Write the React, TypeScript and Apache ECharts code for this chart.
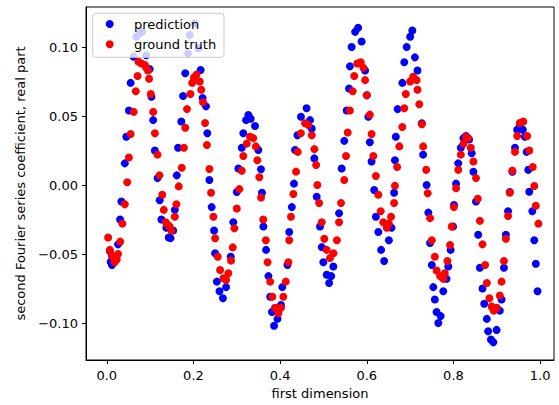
import React, { useEffect, useRef } from "react";
import * as echarts from "echarts";

// [first dimension, coefficient]
const prediction: [number, number][] = [
  [0.007, -0.048], [0.009, -0.0556], [0.012, -0.058], [0.0115, -0.057], [0.026, -0.043], [0.0307, -0.025],
  [0.0337, -0.012], [0.0415, 0.0157], [0.045, 0.035], [0.051, 0.054], [0.055, 0.074], [0.062, 0.093],
  [0.068, 0.1075], [0.076, 0.11], [0.0814, 0.111], [0.091, 0.094], [0.099, 0.084],
  [0.103, 0.064], [0.107, 0.047], [0.111, 0.025], [0.117, 0.005], [0.122, -0.011], [0.126, -0.025],
  [0.1375, -0.031], [0.143, -0.038], [0.147, -0.0385], [0.153, -0.033],
  [0.157, -0.018], [0.1615, 0.007], [0.1645, 0.027], [0.172, 0.046], [0.176, 0.0645], [0.181, 0.081],
  [0.1875, 0.0954], [0.1915, 0.1087], [0.203, 0.117], [0.211, 0.099], [0.2165, 0.0833],
  [0.221, 0.063], [0.229, 0.057], [0.232, 0.0375], [0.2367, 0.0036], [0.242, -0.016], [0.2475, -0.033],
  [0.25, -0.0495], [0.254, -0.07], [0.26, -0.077], [0.268, -0.082], [0.2752, -0.074],
  [0.286, -0.052], [0.292, -0.027], [0.2999, -0.005], [0.3037, 0.012], [0.3114, 0.027], [0.315, 0.0375],
  [0.3214, 0.047], [0.3267, 0.0507], [0.332, 0.048], [0.342, 0.0428],
  [0.3496, 0.0254], [0.3557, 0.0114], [0.358, -0.0056], [0.3613, -0.03], [0.3675, -0.047], [0.373, -0.066],
  [0.377, -0.081], [0.381, -0.092], [0.386, -0.102], [0.394, -0.097], [0.402, -0.087],
  [0.405, -0.074], [0.417, -0.058], [0.421, -0.034], [0.427, -0.016], [0.432, 0.001], [0.4344, 0.0254],
  [0.4398, 0.036], [0.448, 0.0495], [0.461, 0.0556], [0.469, 0.047],
  [0.4729, 0.041], [0.4789, 0.0193], [0.4844, -0.0085], [0.492, -0.03], [0.496, -0.045], [0.4997, -0.056],
  [0.5075, -0.065], [0.513, -0.071], [0.518, -0.066], [0.5227, -0.059],
  [0.536, -0.0205], [0.542, 0.012], [0.548, 0.032], [0.5536, 0.054], [0.559, 0.07], [0.561, 0.086],
  [0.565, 0.1], [0.573, 0.111], [0.58, 0.114], [0.588, 0.104],
  [0.596, 0.083], [0.6, 0.065], [0.6035, 0.0495], [0.607, 0.031], [0.611, 0.017], [0.617, -0.0036],
  [0.621, -0.023], [0.6265, -0.034], [0.633, -0.047], [0.64, -0.055],
  [0.651, -0.04], [0.657, -0.031], [0.663, -0.0056], [0.665, 0.018], [0.667, 0.035], [0.671, 0.055],
  [0.682, 0.074], [0.6865, 0.089], [0.692, 0.1], [0.7, 0.1075], [0.705, 0.112], [0.711, 0.0925], [0.717, 0.083],
  [0.727, 0.0447], [0.73, 0.022], [0.738, 0.0], [0.742, -0.02], [0.746, -0.042], [0.75, -0.058],
  [0.7534, -0.074], [0.757, -0.083], [0.761, -0.092], [0.765, -0.1], [0.7705, -0.095], [0.7765, -0.077], [0.784, -0.068],
  [0.788, -0.059], [0.7935, -0.047], [0.799, -0.03], [0.8012, -0.0145], [0.806, 0.001], [0.811, 0.0157],
  [0.817, 0.027], [0.823, 0.034], [0.829, 0.0355], [0.836, 0.033],
  [0.842, 0.023], [0.846, 0.0096], [0.852, -0.012], [0.857, -0.036], [0.861, -0.06], [0.867, -0.075],
  [0.871, -0.086], [0.877, -0.097], [0.88, -0.106], [0.8865, -0.112], [0.892, -0.114], [0.8996, -0.105],
  [0.907, -0.091], [0.911, -0.083], [0.9165, -0.06], [0.921, -0.036], [0.926, -0.019], [0.93, -0.005],
  [0.936, 0.0096], [0.942, 0.027], [0.947, 0.04], [0.953, 0.0435], [0.96, 0.04],
  [0.965, 0.035], [0.9688, 0.024], [0.9726, 0.011], [0.9749, -0.0049], [0.982, -0.019], [0.9865, -0.04],
  [0.99, -0.057], [0.994, -0.077],
];

const groundTruth: [number, number][] = [
  [0.003, -0.038], [0.007, -0.047], [0.0115, -0.051], [0.0145, -0.052], [0.018, -0.056], [0.023, -0.054],
  [0.026, -0.05], [0.031, -0.041], [0.036, -0.028], [0.0415, -0.014], [0.047, 0.002], [0.051, 0.02],
  [0.055, 0.037], [0.062, 0.053], [0.067, 0.068], [0.071, 0.079], [0.073, 0.0894], [0.08, 0.088],
  [0.088, 0.087], [0.091, 0.085], [0.095, 0.083],
  [0.0976, 0.077], [0.1015, 0.066], [0.107, 0.053], [0.111, 0.0375], [0.117, 0.022], [0.1215, 0.007],
  [0.128, -0.007], [0.1315, -0.018], [0.136, -0.027], [0.141, -0.029], [0.145, -0.03], [0.149, -0.033],
  [0.157, -0.023], [0.1606, -0.014], [0.166, -0.001], [0.173, 0.0125], [0.178, 0.027], [0.181, 0.0415],
  [0.185, 0.055], [0.193, 0.066], [0.197, 0.074], [0.201, 0.078], [0.207, 0.08], [0.2145, 0.075],
  [0.218, 0.069], [0.222, 0.06],
  [0.2268, 0.045], [0.231, 0.029], [0.2367, 0.0116], [0.2406, -0.0056], [0.246, -0.023], [0.25, -0.0386],
  [0.256, -0.052], [0.2614, -0.0616], [0.269, -0.0676], [0.2752, -0.0688], [0.2805, -0.064],
  [0.2867, -0.0548], [0.2907, -0.0452], [0.2944, -0.0314], [0.3, -0.017], [0.306, -0.003], [0.3114, 0.0104],
  [0.315, 0.021], [0.323, 0.03], [0.3306, 0.035], [0.338, 0.034], [0.344, 0.028],
  [0.3474, 0.018], [0.352, 0.0056], [0.356, -0.009], [0.361, -0.025], [0.367, -0.04], [0.371, -0.056],
  [0.377, -0.07], [0.382, -0.081], [0.388, -0.089], [0.396, -0.093], [0.402, -0.089],
  [0.4074, -0.081], [0.413, -0.07], [0.419, -0.056], [0.421, -0.04], [0.425, -0.023], [0.4305, -0.0065],
  [0.4367, 0.0097], [0.4406, 0.024], [0.448, 0.0375], [0.4574, 0.0447], [0.465, 0.0435],
  [0.473, 0.036], [0.479, 0.026], [0.483, 0.0145], [0.486, 0.0], [0.49, -0.013], [0.496, -0.027],
  [0.502, -0.039], [0.5075, -0.047], [0.515, -0.053], [0.523, -0.0495],
  [0.531, -0.04], [0.536, -0.027], [0.5405, -0.013], [0.548, 0.0036], [0.552, 0.021], [0.556, 0.038],
  [0.561, 0.054], [0.5675, 0.068], [0.571, 0.079], [0.578, 0.088], [0.586, 0.089], [0.592, 0.085],
  [0.596, 0.076], [0.6, 0.065], [0.607, 0.051], [0.611, 0.037], [0.615, 0.021], [0.621, 0.0065],
  [0.6265, -0.007], [0.632, -0.019], [0.638, -0.027], [0.646, -0.031], [0.651, -0.028],
  [0.656, -0.023], [0.663, -0.013], [0.665, -0.0005], [0.67, 0.013], [0.675, 0.028], [0.682, 0.042],
  [0.6865, 0.0556], [0.69, 0.066], [0.7, 0.075], [0.707, 0.0785], [0.715, 0.076],
  [0.717, 0.069], [0.721, 0.0585], [0.727, 0.044], [0.73, 0.028], [0.737, 0.011], [0.7405, -0.006],
  [0.746, -0.024], [0.75, -0.04], [0.757, -0.052], [0.761, -0.062], [0.769, -0.066], [0.7765, -0.068],
  [0.78, -0.064],
  [0.786, -0.055], [0.792, -0.0435], [0.796, -0.03], [0.801, -0.016], [0.806, -0.0024], [0.811, 0.011],
  [0.817, 0.022], [0.823, 0.03], [0.829, 0.035], [0.834, 0.034],
  [0.84, 0.027], [0.846, 0.017], [0.852, 0.005], [0.856, -0.01], [0.861, -0.026], [0.867, -0.043],
  [0.873, -0.058], [0.877, -0.071], [0.883, -0.082], [0.888, -0.088], [0.893, -0.091], [0.9, -0.089],
  [0.907, -0.08], [0.911, -0.07], [0.9165, -0.055], [0.921, -0.039], [0.926, -0.0225], [0.93, -0.0056],
  [0.936, 0.0104], [0.942, 0.024], [0.947, 0.0355], [0.953, 0.045], [0.961, 0.046],
  [0.97, 0.0355], [0.975, 0.025], [0.983, 0.013], [0.9865, -0.0007], [0.99, -0.015], [0.996, -0.028],
];

const xTicks = [0.0, 0.2, 0.4, 0.6, 0.8, 1.0];
const yTicks = [-0.1, -0.05, 0.0, 0.05, 0.1];
const seriesNames = ["prediction", "ground truth"];
const seriesColors = ["#0000ff", "#ff0000"];

const FONT = "DejaVu Sans";

export default function App() {
  const ref = useRef<HTMLDivElement>(null);
  useEffect(() => {
    if (!ref.current) return;
    const chart = echarts.init(ref.current, undefined, { renderer: "svg" });
    chart.setOption({
      animation: false,
      backgroundColor: "#ffffff",
      grid: {
        left: 86,
        top: 7,
        right: 5,
        bottom: 45,
        show: true,
        borderColor: "#000000",
        borderWidth: 1,
        backgroundColor: "transparent",
      },
      xAxis: {
        type: "value",
        min: -0.048,
        max: 1.032,
        name: "first dimension",
        nameLocation: "middle",
        nameGap: 26,
        nameTextStyle: { fontFamily: FONT, fontSize: 13, color: "#000" },
        axisLine: { show: true, onZero: false, lineStyle: { color: "#000", width: 1 } },
        axisTick: { show: true, inside: false, length: 4, customValues: xTicks, lineStyle: { color: "#000" } },
        axisLabel: {
          customValues: xTicks,
          margin: 9,
          fontFamily: FONT,
          fontSize: 13,
          color: "#000",
          formatter: (v: number) => v.toFixed(1),
        },
        splitLine: { show: false },
      },
      yAxis: {
        type: "value",
        min: -0.1268,
        max: 0.129,
        name: "second Fourier series coefficient, real part",
        nameLocation: "middle",
        nameRotate: 90,
        nameGap: 52,
        nameTextStyle: { fontFamily: FONT, fontSize: 13, color: "#000" },
        axisLine: { show: true, onZero: false, lineStyle: { color: "#000", width: 1 } },
        axisTick: { show: true, inside: false, length: 4, customValues: yTicks, lineStyle: { color: "#000" } },
        axisLabel: {
          customValues: yTicks,
          margin: 8,
          fontFamily: FONT,
          fontSize: 13,
          color: "#000",
          formatter: (v: number) => v.toFixed(2).replace("-", "\u2212"),
        },
        splitLine: { show: false },
      },
      legend: {
        orient: "vertical",
        left: 105.7,
        top: 17,
        padding: 0,
        itemWidth: 38.6,
        itemHeight: 8,
        itemGap: 6.3,
        icon: "circle",
        selectedMode: false,
        z: 20,
        textStyle: { fontFamily: FONT, fontSize: 13, color: "#000", lineHeight: 14 },
        data: seriesNames,
      },
      graphic: {
        elements: [
          {
            type: "rect",
            z: 10,
            silent: true,
            shape: { x: 92.7, y: 13.3, width: 131.3, height: 44, r: 3 },
            style: { fill: "rgba(255,255,255,0.8)", stroke: "#cccccc", lineWidth: 1 },
          },
        ],
      },
      series: [
        {
          name: seriesNames[0],
          type: "scatter",
          data: prediction,
          symbol: "circle",
          symbolSize: 8,
          itemStyle: { color: seriesColors[0], opacity: 1 },
          emphasis: { disabled: true },
          silent: true,
          z: 2,
        },
        {
          name: seriesNames[1],
          type: "scatter",
          data: groundTruth,
          symbol: "circle",
          symbolSize: 8,
          itemStyle: { color: seriesColors[1], opacity: 1 },
          emphasis: { disabled: true },
          silent: true,
          z: 3,
        },
      ],
    });
    return () => chart.dispose();
  }, []);
  return (
    <div
      ref={ref}
      style={{ position: "fixed", left: 0, top: 0, width: 559, height: 405, background: "#fff" }}
    />
  );
}
